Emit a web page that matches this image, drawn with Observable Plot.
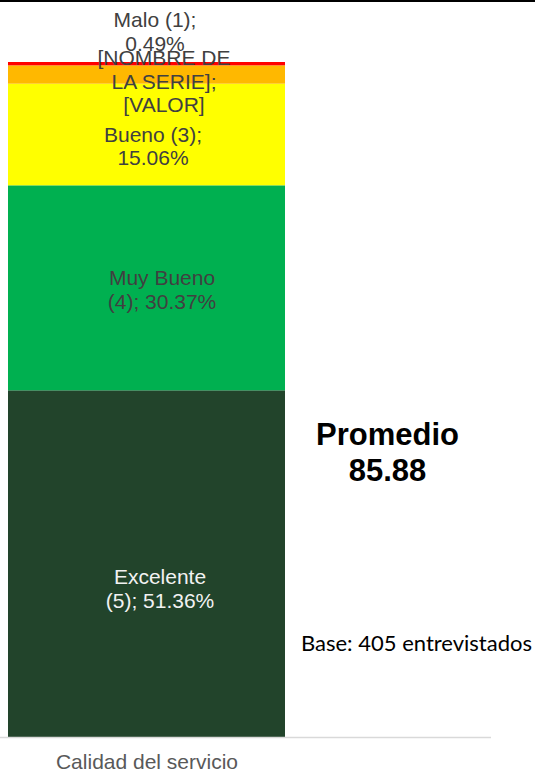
<!DOCTYPE html>
<html>
<head>
<meta charset="utf-8">
<script src="https://cdn.jsdelivr.net/npm/d3@7"></script>
<script src="https://cdn.jsdelivr.net/npm/@observablehq/plot@0.6"></script>
<style>
  html, body { margin: 0; padding: 0; background: #fff; }
  #wrap { position: relative; width: 535px; height: 772px; overflow: hidden; }
  #topline { position: absolute; left: 0; top: 0; width: 535px; height: 2px; background: #000; }
</style>
</head>
<body>
<div id="wrap"><div id="topline"></div></div>
<script>
const category = "Calidad del servicio";
const names  = ["Excelente", "Muy Bueno", "Bueno", "Regular", "Malo"];
const codes  = [5, 4, 3, 2, 1];
const values = [51.36, 30.37, 15.06, 2.72, 0.49];
const labels = [
  "Excelente\n(5); 51.36%",
  "Muy Bueno\n(4); 30.37%",
  "Bueno (3);\n15.06%",
  "[NOMBRE DE\nLA SERIE];\n[VALOR]",
  "Malo (1);\n0.49%"
];
const colors = ["#22442b", "#00b050", "#ffff00", "#ffb800", "#ff0000"];
const promedio = "85.88";
const base = "Base: 405 entrevistados";

const data = names.map((n, i) => ({cat: category, name: n, code: codes[i], value: values[i], label: labels[i]}));

// label styling (offsets and colours like the original Excel labels)
const labelDx   = {"Excelente": 13, "Muy Bueno": 15, "Bueno": 6, "Regular": 17, "Malo": 8};
const labelDy   = {"Excelente": 24, "Muy Bueno": 1, "Bueno": 11, "Regular": 6, "Malo": -33};
const labelFill = {"Excelente": "#f2f2f2"};

const font = "'Liberation Sans', Arial, sans-serif";

const labelMarks = names.map(n => Plot.text(data, Plot.filter(d => d.name === n, Plot.stackY({
  x: "cat", y: "value", text: "label",
  fill: labelFill[n] || "#404040",
  dx: labelDx[n],
  dy: labelDy[n],
  fontSize: 21, lineHeight: 1.13,
  fontFamily: font
}))));

const chart = Plot.plot({
  width: 535,
  height: 772,
  marginLeft: 0,
  marginRight: 44,
  marginTop: 62,
  marginBottom: 35,
  style: {fontFamily: font, background: "transparent", overflow: "visible"},
  x: {domain: [category], range: [8, 285], padding: 0, label: null},
  y: {domain: [0, 100], axis: null},
  color: {domain: names, range: colors},
  marks: [
    Plot.barY(data, Plot.stackY({x: "cat", y: "value", fill: "name", inset: 0})),
    Plot.ruleY([0], {stroke: "#d9d9d9", strokeWidth: 1.5}),
    ...labelMarks,
    Plot.axisX({tickSize: 0, tickPadding: 17, fontSize: 21, fill: "#595959", fontFamily: font}),
    Plot.text([`Promedio\n${promedio}`], {
      frameAnchor: "top-left", dx: 387, dy: 389,
      fontSize: 31, fontWeight: "bold", lineHeight: 1.18, fill: "#000",
      fontFamily: font, textAnchor: "middle", lineAnchor: "middle"
    }),
    Plot.text([base], {
      frameAnchor: "top-left", dx: 416, dy: 581,
      fontSize: 22, fill: "#000", fontFamily: "Lato, 'Open Sans', sans-serif",
      textAnchor: "middle", lineAnchor: "middle"
    })
  ]
});
chart.style.position = "absolute";
chart.style.left = "0";
chart.style.top = "0";
document.getElementById("wrap").appendChild(chart);
</script>
</body>
</html>
